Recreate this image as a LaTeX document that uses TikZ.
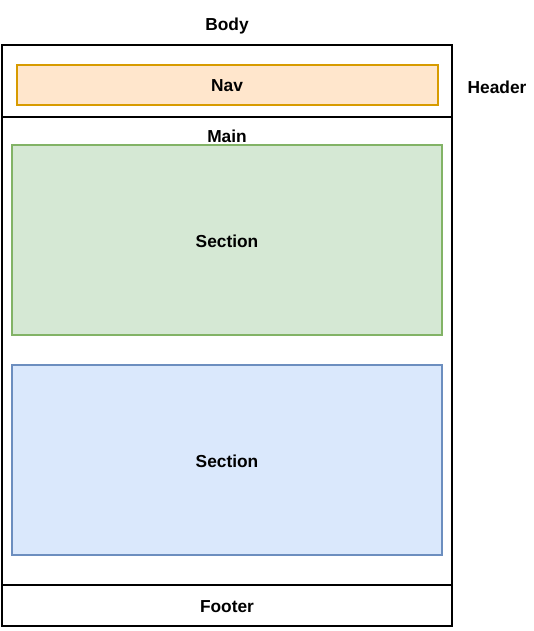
\documentclass[tikz,border=0pt]{standalone}
\usepackage{fontspec}
\setmainfont{Liberation Sans}
\usepackage{tikz}
\usetikzlibrary{positioning}
\definecolor{navfill}{HTML}{FFE6CC}
\definecolor{navline}{HTML}{D79B00}
\definecolor{greenfill}{HTML}{D5E8D4}
\definecolor{greenline}{HTML}{82B366}
\definecolor{bluefill}{HTML}{DAE8FC}
\definecolor{blueline}{HTML}{6C8EBF}
\tikzset{
  every node/.style={font=\fontsize{13pt}{15pt}\selectfont\bfseries},
  region/.style={draw=black, line width=1.1pt, inner sep=0pt, minimum width=337.5pt},
  block/.style={draw, line width=1.1pt, inner sep=0pt},
  caption/.style={inner sep=0pt}
}
\tikzstyle{navblock}=[block, draw=navline, fill=navfill, minimum width=315.75pt, minimum height=30pt]
\tikzstyle{section}=[block, minimum width=322.5pt, minimum height=142.5pt]

\begin{document}
\begin{tikzpicture}[x=0.75pt,y=-0.75pt]
  \useasboundingbox (0,0) rectangle (534,631);

  % Draw page regions
  \node[region, minimum height=54pt] (header) at (227,81) {};
  \node[region, minimum height=351pt] (main) at (227,351) {};
  \node[region, minimum height=30.75pt] (footer) at (227,605.5) {};
  \node (footerlabel) at (227,606.5) {Footer};

  % Draw inner blocks
  \node[navblock] (nav) at (227.5,85) {};
  \node (navlabel) at (227,86) {Nav};
  \node[section, draw=greenline, fill=greenfill] (sec1) at (227,240) {};
  \node (sec1label) at (227,241) {Section};
  \node[section, draw=blueline, fill=bluefill] (sec2) at (227,460) {};
  \node (sec2label) at (227,461) {Section};

  % Draw labels
  \node[caption] (body) at (227,26) {Body};
  \node[caption] (headerlabel) at (497,87) {Header};
  \node[caption] (mainlabel) at (227,136) {Main};
\end{tikzpicture}
\end{document}
